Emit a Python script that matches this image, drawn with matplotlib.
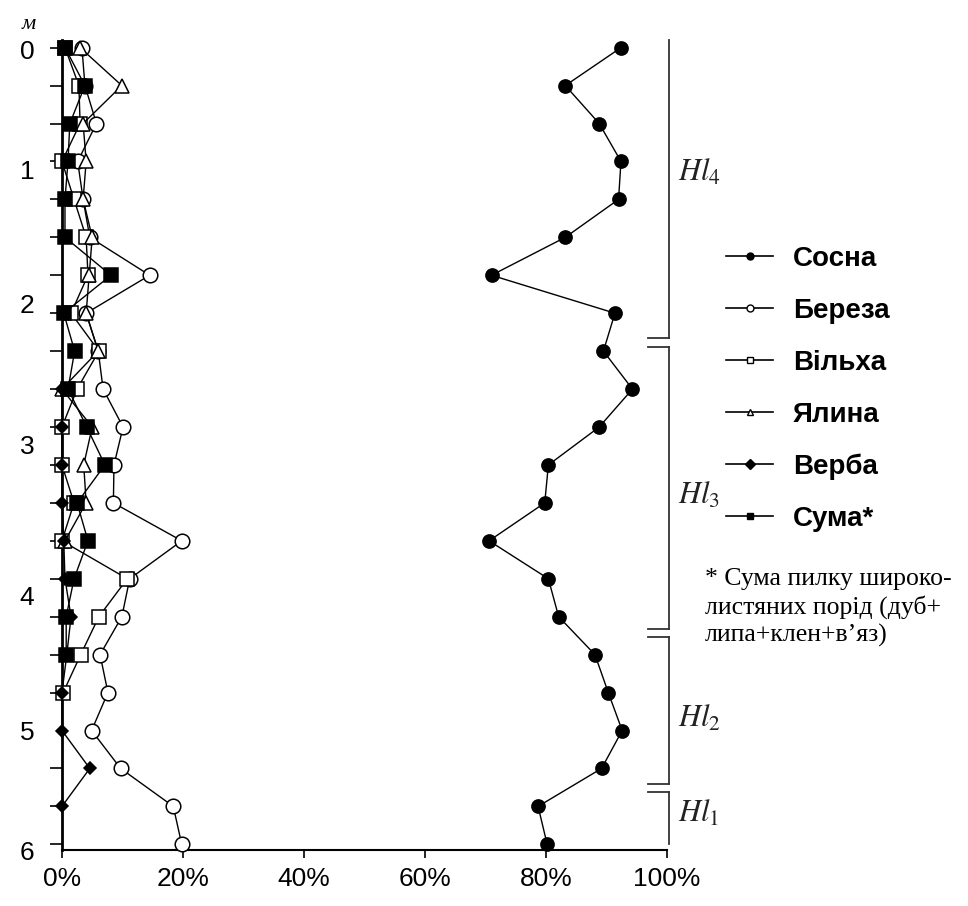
import numpy as np
import matplotlib
matplotlib.use('Agg')
from matplotlib import pyplot as plt
from matplotlib.lines import Line2D

nan = np.nan

# samples from top to bottom of the section
samples = np.arange(22)
depth_labels = ['0', '1', '2', '3', '4', '5', '6']
depth_label_pos = [0.05, 3.2, 6.75, 10.45, 14.45, 18.0, 21.15]

x_ticks = [0, 20, 40, 60, 80, 100]
x_labels = ['0%', '20%', '40%', '60%', '80%', '100%']

names = ['Сосна', 'Береза', 'Вільха', 'Ялина', 'Верба', 'Сума*']

sosna = [92.4, 83.2, 88.8, 92.4, 92.0, 83.2, 71.0, 91.4, 89.5, 94.3, 88.8,
         80.4, 79.8, 70.6, 80.4, 82.1, 88.1, 90.3, 92.6, 89.2, 78.7, 80.2]
bereza = [3.3, 3.8, 5.7, 2.6, 3.5, 4.6, 14.5, 4.0, 6.0, 6.8, 10.1,
          8.6, 8.5, 19.8, 11.2, 9.9, 6.3, 7.6, 4.9, 9.7, 18.4, 19.8]
vilkha = [0.5, 2.8, 3.0, 0.0, 2.0, 4.0, 4.3, 1.5, 6.1, 2.5, 0.0,
          0.0, 2.0, 0.0, 10.8, 6.1, 3.1, 0.2, nan, nan, nan, nan]
yalyna = [3.0, 9.9, 3.5, 4.0, 3.5, 5.0, 4.5, 4.0, 6.0, 0.0, 5.0,
          3.6, 4.0, 0.5, nan, nan, nan, nan, nan, nan, nan, nan]
verba = [nan, nan, nan, nan, nan, nan, nan, nan, nan, 0.0, 0.0,
         0.0, 0.0, 0.3, 0.5, 1.5, 0.8, 0.0, 0.0, 4.6, 0.0, nan]
suma = [0.5, 3.8, 1.3, 1.0, 0.5, 0.5, 8.1, 0.3, 2.1, 1.0, 4.1,
        7.1, 2.5, 4.3, 2.0, 0.7, 0.7, nan, nan, nan, nan, nan]

horizons = ['$Hl_4$', '$Hl_3$', '$Hl_2$', '$Hl_1$']
horizon_bounds = [(-0.2, 7.77), (7.77, 15.43), (15.43, 19.51), (19.51, 21.0)]
horizon_label_pos = [3.3, 11.8, 17.7, 20.2]

footnote = '* Сума пилку широко-\nлистяних порід (дуб+\nлипа+клен+в\u2019яз)'

plt.rcParams['font.family'] = ['Liberation Sans', 'DejaVu Sans']
plt.rcParams['mathtext.fontset'] = 'stix'

fig = plt.figure(figsize=(9.68, 9.06), dpi=100)
ax = fig.add_axes([0.064, 0.0618, 0.625, 0.894])

series = [sosna, bereza, vilkha, yalyna, verba, suma]
markers = ['o', 'o', 's', '^', 'D', 's']
faces = ['black', 'white', 'white', 'white', 'black', 'black']
sizes = [9.5, 10.5, 10, 10, 6.5, 10]

handles = []
for vals, name, m, fc, ms in zip(series, names, markers, faces, sizes):
    ax.plot(vals, samples, color='black', lw=1, marker=m, ms=ms,
            mfc=fc, mec='black', mew=1.1, clip_on=False, zorder=3)
    handles.append(Line2D([], [], color='black', lw=1.2, marker=m, ms=5,
                          mfc=fc, mec='black', mew=1))

ax.set_xlim(0, 100)
ax.set_ylim(21, -0.2)

ax.spines['top'].set_visible(False)
ax.spines['right'].set_visible(False)
ax.spines['left'].set_linewidth(2)
ax.spines['bottom'].set_linewidth(1.5)

ax.set_xticks(x_ticks)
ax.set_xticklabels(x_labels, fontsize=19)
ax.tick_params(axis='x', direction='out', length=6, width=1.2, pad=6)

ax.set_yticks(depth_label_pos)
ax.set_yticklabels(depth_labels, fontsize=19)
ax.set_yticks(samples, minor=True)
ax.tick_params(axis='y', which='major', length=0, pad=20)
ax.tick_params(axis='y', which='minor', length=9, width=1.2, direction='out')

# horizon brackets
for (top, bottom), lab, ypos in zip(horizon_bounds, horizons, horizon_label_pos):
    t = top + 0.11 if top > 0 else top
    b = bottom - 0.11 if bottom < 21 else bottom
    ax.plot([100.3, 100.3], [t, b], color='#333333', lw=1.3, clip_on=False)
    if top > 0:
        ax.plot([96.9, 100.3], [t, t], color='#333333', lw=1.3, clip_on=False)
    if bottom < 21:
        ax.plot([96.9, 100.3], [b, b], color='#333333', lw=1.3, clip_on=False)
    ax.text(101.8, ypos, lab, fontsize=22, va='center', ha='left', color='#222222')

ax.text(-5.5, -0.62, 'м', fontsize=16, style='italic', family='Liberation Serif',
        ha='center', va='center', clip_on=False)

fig.legend(handles, names, loc='upper left', bbox_to_anchor=(726 / 968, 1 - 246 / 906),
           frameon=False, borderpad=0, borderaxespad=0, handlelength=1.7,
           handletextpad=0.7, labelspacing=0.93,
           prop={'size': 20, 'weight': 'bold', 'family': 'Liberation Sans'})

fig.text(705 / 968, 1 - 568 / 906, footnote, fontsize=18.5, family='Liberation Serif',
         ha='left', va='top', linespacing=1.28)

plt.savefig('out.png', dpi=100)
